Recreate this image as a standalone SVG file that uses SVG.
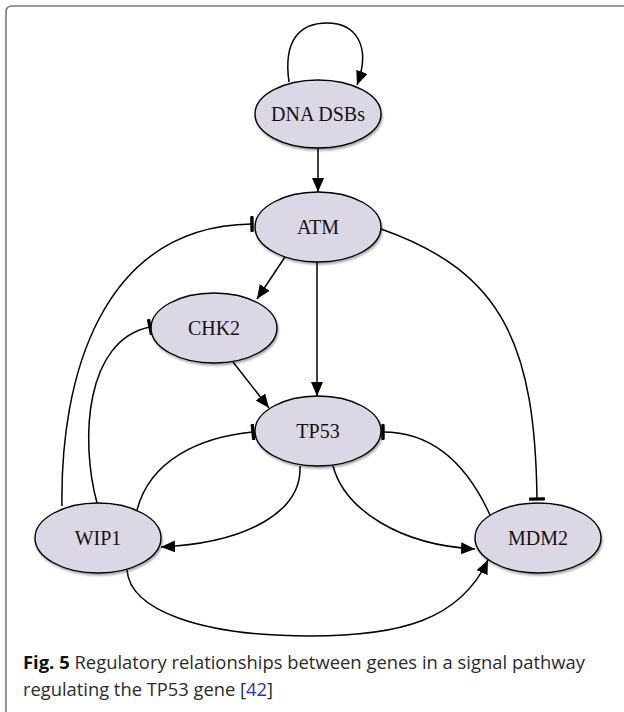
<svg xmlns="http://www.w3.org/2000/svg" width="624" height="712" viewBox="0 0 624 712">
<style>
.node ellipse{fill:#dcd7e5;stroke:#000;stroke-width:1.4;filter:url(#sh)}
.node text{font-family:"Liberation Serif","Times New Roman",serif;font-size:20px;fill:#111;text-anchor:middle}
.edge{fill:none;stroke:#000;stroke-width:1.5}
.act{marker-end:url(#arr)}
.inh{marker-end:url(#bar)}
.cap{font-family:"Open Sans","Noto Sans",sans-serif;font-size:18px;fill:#2b2b2b}
</style>
<defs>
<filter id="sh" x="-20%" y="-20%" width="140%" height="150%">
<feDropShadow dx="1" dy="2" stdDeviation="1.2" flood-color="#000" flood-opacity="0.35"/>
</filter>
<marker id="arr" viewBox="0 0 14 12" refX="14" refY="6" markerWidth="14" markerHeight="12" orient="auto" markerUnits="userSpaceOnUse">
<path d="M0,0 L14,6 L0,12 z" fill="#000"/>
</marker>
<marker id="bar" viewBox="0 0 4 16" refX="2" refY="8" markerWidth="4" markerHeight="16" orient="auto" markerUnits="userSpaceOnUse">
<rect x="0.3" y="0" width="3.4" height="16" rx="1" fill="#000"/>
</marker>
</defs>
<rect width="624" height="712" fill="#fff"/>
<path d="M6,712 V12 Q6,6 12,6 H624" fill="none" stroke="#7a7a7a" stroke-width="1.6"/>

<g id="connectors">
<path class="edge act" d="M289,82 C283,40 300,23 327,23 C355,23 372,45 357,85"/>
<path class="edge act" d="M318,148 L318,192"/>
<path class="edge act" d="M285,257 L257,299"/>
<path class="edge act" d="M233,362 L269,408"/>
<path class="edge act" d="M317,262 L317,396"/>
<path class="edge inh" d="M381,229 C504,272 535,347 537,499"/>
<path class="edge inh" d="M62,506 C60,380 100,226 252,224"/>
<path class="edge inh" d="M97,503 C80,440 85,340 150,327"/>
<path class="edge inh" d="M137,510 C150,460 200,437 253,432"/>
<path class="edge act" d="M300,466 C302,510 250,543 161,547"/>
<path class="edge act" d="M333,466 C345,510 400,545 475,549"/>
<path class="edge inh" d="M490,515 C465,460 430,432 383,432"/>
<path class="edge act" d="M127,570 C130,610 200,636 310,636 C400,636 460,620 488,560"/>
</g>

<g id="node-dna" class="node"><ellipse cx="318" cy="114" rx="63" ry="34"/><text x="318" y="120.5">DNA DSBs</text></g>
<g id="node-atm" class="node"><ellipse cx="318" cy="227" rx="63" ry="35"/><text x="318" y="233.5">ATM</text></g>
<g id="node-chk2" class="node"><ellipse cx="214" cy="328" rx="63" ry="35"/><text x="214" y="334.5">CHK2</text></g>
<g id="node-tp53" class="node"><ellipse cx="318" cy="431" rx="63" ry="35"/><text x="318" y="437.5">TP53</text></g>
<g id="node-wip1" class="node"><ellipse cx="98" cy="538" rx="63" ry="35"/><text x="98" y="544.5">WIP1</text></g>
<g id="node-mdm2" class="node"><ellipse cx="538" cy="538" rx="63" ry="35"/><text x="538" y="544.5">MDM2</text></g>

<g id="caption">
<text class="cap" x="23" y="669" textLength="562" lengthAdjust="spacingAndGlyphs"><tspan font-weight="bold" fill="#111">Fig. 5</tspan> Regulatory relationships between genes in a signal pathway</text>
<text class="cap" x="23" y="695.5" textLength="250" lengthAdjust="spacingAndGlyphs">regulating the TP53 gene [<tspan fill="#2b2bd9">42</tspan>]</text>
</g>
</svg>
